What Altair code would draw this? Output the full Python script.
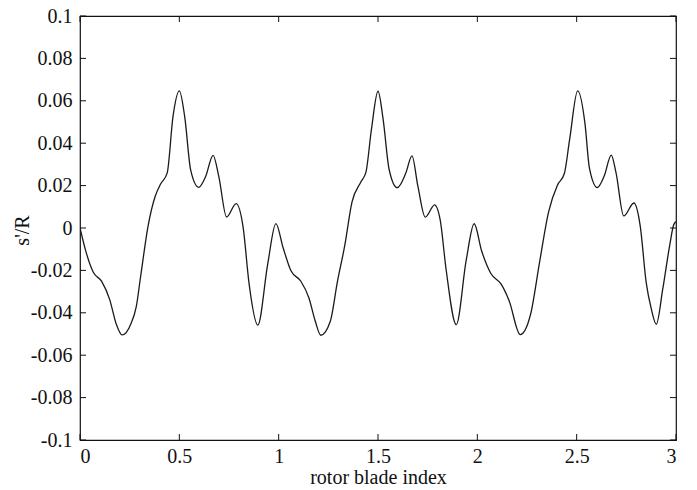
import altair as alt
import pandas as pd

blade_index = [
    0.000, 0.027, 0.067, 0.109, 0.150, 0.181, 0.212, 0.257, 0.283, 0.306,
    0.343, 0.379, 0.405, 0.439, 0.468, 0.500, 0.527, 0.557, 0.597, 0.632,
    0.670, 0.699, 0.738, 0.786, 0.821, 0.851, 0.895, 0.945, 0.986, 1.022,
    1.062, 1.111, 1.152, 1.184, 1.212, 1.260, 1.296, 1.333, 1.369, 1.413,
    1.439, 1.467, 1.500, 1.526, 1.556, 1.597, 1.640, 1.671, 1.701, 1.738,
    1.785, 1.813, 1.843, 1.894, 1.944, 1.984, 2.021, 2.069, 2.119, 2.160,
    2.216, 2.268, 2.314, 2.359, 2.403, 2.438, 2.465, 2.505, 2.542, 2.564,
    2.604, 2.639, 2.674, 2.698, 2.737, 2.788, 2.820, 2.850, 2.876, 2.901,
    2.933, 2.970, 2.988, 3.000,
]
s_over_R = [
    0.0000, -0.0102, -0.0209, -0.0252, -0.0339, -0.0449, -0.0504, -0.0450, -0.0372, -0.0223,
    0.0011, 0.0151, 0.0206, 0.0260, 0.0525, 0.0647, 0.0525, 0.0274, 0.0192, 0.0242,
    0.0343, 0.0241, 0.0052, 0.0115, 0.0004, -0.0262, -0.0458, -0.0169, 0.0021, -0.0092,
    -0.0202, -0.0250, -0.0329, -0.0439, -0.0506, -0.0440, -0.0252, -0.0081, 0.0122, 0.0216,
    0.0262, 0.0465, 0.0645, 0.0511, 0.0276, 0.0190, 0.0259, 0.0340, 0.0196, 0.0051,
    0.0109, 0.0038, -0.0197, -0.0456, -0.0152, 0.0020, -0.0106, -0.0216, -0.0264, -0.0343,
    -0.0503, -0.0407, -0.0157, 0.0077, 0.0202, 0.0257, 0.0420, 0.0647, 0.0491, 0.0284,
    0.0191, 0.0246, 0.0344, 0.0261, 0.0057, 0.0118, 0.0009, -0.0258, -0.0383, -0.0454,
    -0.0290, -0.0072, 0.0014, 0.0030,
]

x_ticks = [0, 0.5, 1, 1.5, 2, 2.5, 3]
y_ticks = [-0.1, -0.08, -0.06, -0.04, -0.02, 0, 0.02, 0.04, 0.06, 0.08, 0.1]

W, H = 596, 424
FONT = "Liberation Serif"
FS = 20
TL = 6

df = pd.DataFrame({"x": blade_index, "y": s_over_R})
xt = pd.DataFrame({"x": x_ticks})
yt = pd.DataFrame({"y": y_ticks})

xscale = alt.Scale(domain=[0, 3], nice=False, zero=False)
yscale = alt.Scale(domain=[-0.1, 0.1], nice=False, zero=False)

lab = "datum.value < 0 ? '-' + format(-datum.value, '~g') : format(datum.value, '~g')"

line = alt.Chart(df).mark_line(color="#1a1a1a", strokeWidth=1.3, interpolate="monotone", clip=True).encode(
    x=alt.X("x:Q", scale=xscale,
            axis=alt.Axis(values=x_ticks, labelExpr=lab, ticks=False, domain=False, grid=False,
                          labelFont=FONT, labelFontSize=FS, labelColor="#111", labelPadding=6,
                          title="rotor blade index", titleFont=FONT, titleFontSize=FS,
                          titleFontWeight="normal", titleColor="#111",
                          titleBaseline="alphabetic", titleY=43, titleX=W / 2)),
    y=alt.Y("y:Q", scale=yscale,
            axis=alt.Axis(values=y_ticks, labelExpr=lab, ticks=False, domain=False, grid=False,
                          labelFont=FONT, labelFontSize=FS, labelColor="#111", labelPadding=8,
                          title="s'/R", titleFont=FONT, titleFontSize=FS,
                          titleFontWeight="normal", titleColor="#111",
                          titleBaseline="alphabetic", titleX=-52, titleY=214)),
)

tick_style = dict(color="#111", strokeWidth=1)
left_ticks = alt.Chart(yt).mark_rule(**tick_style).encode(
    y=alt.Y("y:Q", scale=yscale), x=alt.value(0), x2=alt.value(TL))
right_ticks = alt.Chart(yt).mark_rule(**tick_style).encode(
    y=alt.Y("y:Q", scale=yscale), x=alt.value(W - TL), x2=alt.value(W))
bottom_ticks = alt.Chart(xt).mark_rule(**tick_style).encode(
    x=alt.X("x:Q", scale=xscale), y=alt.value(H), y2=alt.value(H - TL))
top_ticks = alt.Chart(xt).mark_rule(**tick_style).encode(
    x=alt.X("x:Q", scale=xscale), y=alt.value(0), y2=alt.value(TL))

chart = alt.layer(line, left_ticks, right_ticks, bottom_ticks, top_ticks).properties(
    width=W, height=H,
    autosize=alt.AutoSizeParams(type="none"),
    padding={"left": 72, "top": 8, "right": 10, "bottom": 48},
    background="white",
).configure_view(stroke="#111", strokeWidth=1.2)

chart.save("out.html", embed_options={"renderer": "svg", "actions": False})
